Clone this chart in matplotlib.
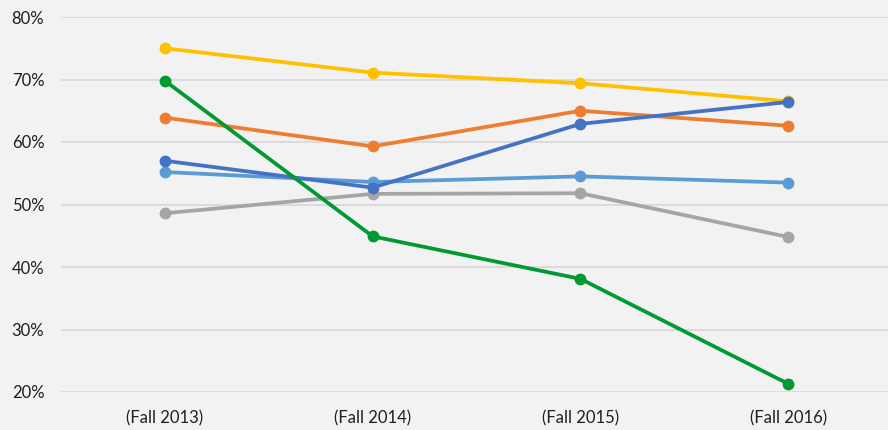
import matplotlib
matplotlib.use("Agg")
import matplotlib.pyplot as plt
from matplotlib.ticker import FuncFormatter

categories = ["(Fall 2013)", "(Fall 2014)", "(Fall 2015)", "(Fall 2016)"]
gray = [48.6, 51.7, 51.8, 44.8]
light_blue = [55.2, 53.6, 54.5, 53.5]
orange = [63.9, 59.3, 65.0, 62.6]
yellow = [75.0, 71.1, 69.4, 66.5]
dark_blue = [57.0, 52.7, 62.9, 66.4]
green = [69.8, 44.9, 38.1, 21.3]

series = [
    (gray, "#A5A5A5"),
    (light_blue, "#5B9BD5"),
    (orange, "#ED7D31"),
    (yellow, "#FFC000"),
    (dark_blue, "#4472C4"),
    (green, "#009933"),
]

plt.rcParams['font.family'] = ['Lato', 'DejaVu Sans']
fig = plt.figure(figsize=(8.88, 4.30), dpi=100, facecolor="#F2F2F2")
ax = fig.add_axes([61/888, 1-392/430, 1-61/888, (392-17)/430])
ax.set_facecolor("#F2F2F2")

x = list(range(len(categories)))
for vals, col in series:
    ax.plot(x, [v/100 for v in vals], color=col, lw=2.7, marker="o", ms=7.5,
            solid_capstyle="round", zorder=3)

ax.set_ylim(0.2, 0.8)
ax.set_xlim(-0.5, 3.48)
ax.set_yticks([0.2, 0.3, 0.4, 0.5, 0.6, 0.7, 0.8])
ax.yaxis.set_major_formatter(FuncFormatter(lambda v, p: f"{v*100:.0f}%"))
ax.set_xticks(x)
ax.set_xticklabels(categories)
ax.grid(axis="y", color="#D9D9D9", lw=1.3, zorder=0)
ax.set_axisbelow(True)
for s in ax.spines.values():
    s.set_visible(False)
ax.tick_params(axis="both", length=0, labelsize=12, colors="#1F1F1F")
ax.tick_params(axis="y", pad=12)
ax.tick_params(axis="x", pad=13)

fig.savefig("out.png", dpi=100, facecolor=fig.get_facecolor())
